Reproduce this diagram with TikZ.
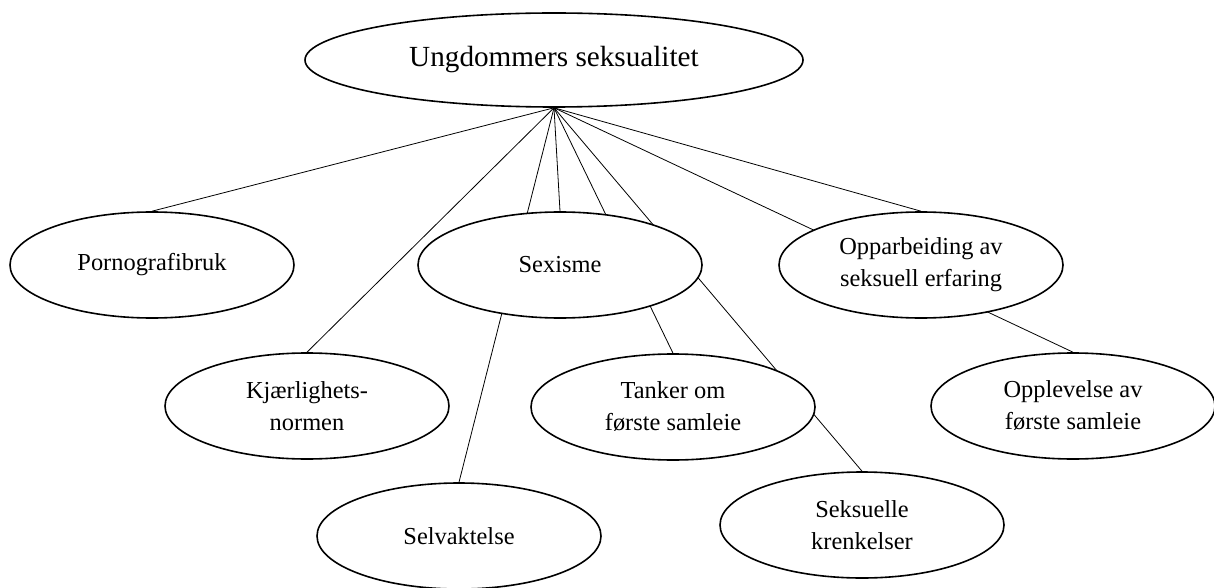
\documentclass[tikz,border=0pt]{standalone}
\usepackage{fontspec}
\setmainfont{Liberation Serif}
\usetikzlibrary{shapes.geometric,backgrounds}

\tikzset{
  emne/.style={ellipse,draw,fill=white,line width=0.8pt,minimum width=142pt,minimum height=53pt,
    inner sep=0pt,align=center,font=\fontsize{12.2}{16}\selectfont},
  hoved/.style={emne,minimum width=249pt,minimum height=47pt,font=\fontsize{14.6}{17}\selectfont}
}

\begin{document}
\begin{tikzpicture}[x=0.5pt,y=-0.5pt]
  \useasboundingbox (0,0) rectangle (1214,588);
  \node[hoved] (U) at (554,60) {Ungdommers seksualitet};
  \node[emne] (P) at (152,265) {Pornografibruk};
  \node[emne] (S) at (560,265) {Sexisme};
  \node[emne] (O) at (921,265) {Opparbeiding av\\seksuell erfaring};
  \node[emne] (K) at (307,406) {Kjærlighets-\\normen};
  \node[emne] (T) at (673,407) {Tanker om\\første samleie};
  \node[emne] (A) at (1073,406) {Opplevelse av\\første samleie};
  \node[emne] (V) at (459,536) {Selvaktelse};
  \node[emne] (L) at (862,525) {Seksuelle\\krenkelser};
  \begin{scope}[on background layer,line width=0.8pt]
    \draw (U.south)--(P.north);
    \draw (U.south)--(K.north);
    \draw (U.south)--(V.north);
    \draw (U.south)--(S.north);
    \draw (U.south)--(T.north);
    \draw (U.south)--(L.north);
    \draw (U.south)--(A.north);
    \draw (U.south)--(O.north);
  \end{scope}
\end{tikzpicture}
\end{document}
